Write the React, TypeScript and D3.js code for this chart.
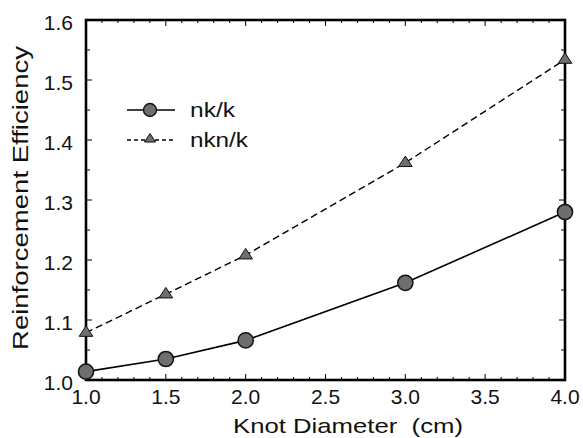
import React from "react";
import * as d3 from "d3";

const diameters = [1.0, 1.5, 2.0, 3.0, 4.0];
const nkK = [1.014, 1.035, 1.066, 1.162, 1.28];
const nknK = [1.079, 1.143, 1.208, 1.362, 1.534];
const xTicks = [1.0, 1.5, 2.0, 2.5, 3.0, 3.5, 4.0];
const yTicks = [1.0, 1.1, 1.2, 1.3, 1.4, 1.5, 1.6];
const seriesNames = ["nk/k", "nkn/k"];

const W = 583;
const H = 438;
const m = { left: 86, right: 18, top: 20, bottom: 58 };

export default function App() {
  const x = d3.scaleLinear().domain([1, 4]).range([m.left, W - m.right]);
  const y = d3.scaleLinear().domain([1, 1.6]).range([H - m.bottom, m.top]);
  const line = d3
    .line<number>()
    .x((_, i) => x(diameters[i]))
    .y((d) => y(d));
  const x0 = x(1), x1 = x(4), y0 = y(1), y1 = y(1.6);
  const minorX = d3.range(1.1, 4, 0.1).filter((v) => Math.abs(v * 2 - Math.round(v * 2)) > 1e-6);
  const minorY = d3.range(1.05, 1.6, 0.1);
  const font = "Liberation Sans, Arial, sans-serif";
  const ink = "#111";
  const markFill = "#6e6e6e";
  const tri = (cx: number, cy: number, s: number) =>
    `M${cx},${cy - s}L${cx + s},${cy + s * 0.55}L${cx - s},${cy + s * 0.55}Z`;

  return (
    <svg width={W} height={H} style={{ position: "absolute", left: 0, top: 0 }} fontFamily={font}>
      <rect width={W} height={H} fill="#fff" />
      {/* ticks, inward on all four sides */}
      <g stroke="#000" strokeWidth={1}>
        {xTicks.map((t) => (
          <g key={"xt" + t}>
            <line x1={x(t)} x2={x(t)} y1={y0} y2={y0 - 6} />
            <line x1={x(t)} x2={x(t)} y1={y1} y2={y1 + 6} />
          </g>
        ))}
        {minorX.map((t) => (
          <g key={"xm" + t}>
            <line x1={x(t)} x2={x(t)} y1={y0} y2={y0 - 3} />
            <line x1={x(t)} x2={x(t)} y1={y1} y2={y1 + 3} />
          </g>
        ))}
        {yTicks.map((t) => (
          <g key={"yt" + t}>
            <line x1={x0} x2={x0 + 6} y1={y(t)} y2={y(t)} />
            <line x1={x1} x2={x1 - 6} y1={y(t)} y2={y(t)} />
          </g>
        ))}
        {minorY.map((t) => (
          <g key={"ym" + t}>
            <line x1={x0} x2={x0 + 4} y1={y(t)} y2={y(t)} />
            <line x1={x1} x2={x1 - 4} y1={y(t)} y2={y(t)} />
          </g>
        ))}
      </g>
      <rect x={x0} y={y1} width={x1 - x0} height={y0 - y1} fill="none" stroke="#000" strokeWidth={2.6} />
      {/* tick labels */}
      {xTicks.map((t) => (
        <text key={"xl" + t} x={x(t)} y={y0 + 24} textAnchor="middle" fontSize={21} fill={ink}>
          {t.toFixed(1)}
        </text>
      ))}
      {yTicks.map((t) => (
        <text key={"yl" + t} x={x0 - 13} y={y(t) + 10} textAnchor="end" fontSize={21} fill={ink}>
          {t.toFixed(1)}
        </text>
      ))}
      <text
        x={233}
        y={433}
        fontSize={21}
        fill={ink}
        textLength={230}
        lengthAdjust="spacingAndGlyphs"
        xmlSpace="preserve"
      >
        Knot Diameter  (cm)
      </text>
      <text
        transform={`translate(28,${198}) rotate(-90)`}
        x={-152}
        fontSize={22}
        fill={ink}
        textLength={304}
        lengthAdjust="spacingAndGlyphs"
      >
        Reinforcement Efficiency
      </text>
      {/* series */}
      <path d={line(nknK) ?? ""} fill="none" stroke="#000" strokeWidth={1.4} strokeDasharray="7,4" />
      <path d={line(nkK) ?? ""} fill="none" stroke="#000" strokeWidth={1.6} />
      {nknK.map((v, i) => (
        <path key={"t" + i} d={tri(x(diameters[i]), y(v), 6.8)} fill={markFill} stroke={ink} strokeWidth={1} />
      ))}
      {nkK.map((v, i) => (
        <circle key={"c" + i} cx={x(diameters[i])} cy={y(v)} r={7.6} fill={markFill} stroke={ink} strokeWidth={1.5} />
      ))}
      {/* legend */}
      <g>
        <line x1={127} x2={175} y1={110} y2={110} stroke="#000" strokeWidth={1.6} />
        <circle cx={150} cy={110} r={6.5} fill={markFill} stroke={ink} strokeWidth={1.4} />
        <text x={190} y={117} fontSize={20} fill={ink} textLength={45} lengthAdjust="spacingAndGlyphs">
          {seriesNames[0]}
        </text>
        <line x1={127} x2={175} y1={140} y2={140} stroke="#000" strokeWidth={1.3} strokeDasharray="4,3" />
        <path d={tri(150, 139, 5.5)} fill={markFill} stroke={ink} strokeWidth={1} />
        <text x={190} y={147} fontSize={20} fill={ink} textLength={58} lengthAdjust="spacingAndGlyphs">
          {seriesNames[1]}
        </text>
      </g>
    </svg>
  );
}
